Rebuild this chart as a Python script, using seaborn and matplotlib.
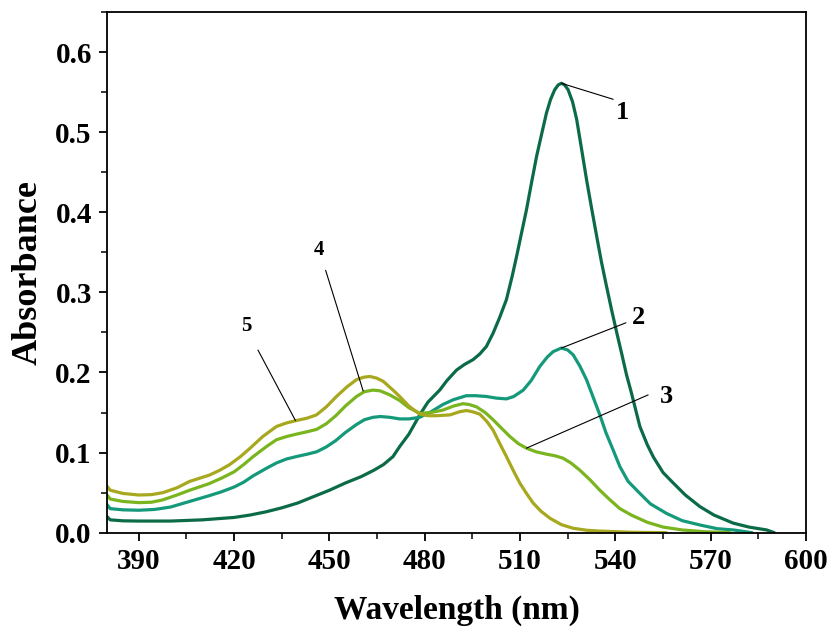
import matplotlib
matplotlib.use("Agg")
import matplotlib.pyplot as plt
import seaborn as sns
import pandas as pd
from matplotlib.ticker import MultipleLocator

# ---- data ----
wl1 = [380, 381, 385, 390, 400, 410, 420, 425, 430, 435, 440, 445, 450, 455, 460, 464, 467, 470, 472.1, 475,
       478.4, 481, 484.7, 487, 490, 492.5, 495.2, 497.3, 499.4, 501.5, 503.5, 505.7, 507.5, 508.9, 510.5, 512,
       513.6, 515.2, 516.8, 518.3, 519.6, 520.9, 522, 523, 524, 525.1, 526.5, 527.8, 529.3, 530.9, 532.5, 534.1,
       535.6, 537.2, 538.8, 540.4, 542, 543.5, 545, 547.7, 550, 552, 555, 558.2, 562, 566.6, 571, 577, 582, 587.6, 590]
ab1 = [0.020, 0.016, 0.0148, 0.0145, 0.0145, 0.016, 0.019, 0.022, 0.026, 0.031, 0.037, 0.045, 0.053, 0.062,
       0.070, 0.078, 0.085, 0.095, 0.1075, 0.123, 0.147, 0.163, 0.178, 0.190, 0.203, 0.210, 0.216, 0.223, 0.2325,
       0.249, 0.268, 0.291, 0.320, 0.345, 0.375, 0.403, 0.437, 0.470, 0.498, 0.524, 0.541, 0.553, 0.559, 0.561,
       0.559, 0.553, 0.538, 0.516, 0.480, 0.441, 0.405, 0.370, 0.338, 0.3075, 0.278, 0.250, 0.223, 0.197, 0.175,
       0.1325, 0.110, 0.094, 0.075, 0.062, 0.047, 0.0325, 0.022, 0.012, 0.007, 0.0034, 0.0]

wl2 = [380, 381, 385, 390, 395, 400, 406, 412, 416, 420, 423, 426, 430, 433.3, 436.5, 439.6, 443, 446, 449, 452,
       455, 458.5, 461, 463.7, 466, 469, 472.1, 475, 478.4, 482, 485.7, 489, 493.1, 496, 499.4, 502.5, 505.7, 508,
       511, 513.5, 516.2, 518.5, 520.4, 523, 525, 526.7, 528.8, 530.9, 533, 535.1, 537, 539.3, 541.4, 544, 547.7,
       551, 556.1, 561, 566.6, 572, 577.1, 583]
ab2 = [0.035, 0.030, 0.0285, 0.028, 0.029, 0.032, 0.039, 0.046, 0.051, 0.057, 0.063, 0.071, 0.080, 0.087, 0.092,
       0.095, 0.098, 0.101, 0.107, 0.115, 0.125, 0.135, 0.141, 0.144, 0.145, 0.144, 0.142, 0.142, 0.144, 0.151,
       0.160, 0.166, 0.171, 0.171, 0.170, 0.168, 0.167, 0.170, 0.178, 0.190, 0.2075, 0.219, 0.226, 0.2305, 0.228,
       0.222, 0.208, 0.191, 0.169, 0.147, 0.125, 0.103, 0.0825, 0.064, 0.049, 0.036, 0.024, 0.015, 0.0096, 0.005,
       0.0034, 0.0]

wl4 = [380, 381, 385, 390, 394, 397.6, 402, 406, 412, 416, 420, 423, 426, 430, 433.3, 436.5, 439.6, 443, 446, 449,
       452, 455, 458.5, 461, 463.7, 466, 469, 472.1, 475, 478.4, 482, 485.7, 489, 492, 494, 496.3, 499, 501.5, 504,
       506.8, 509.5, 512, 515, 518.3, 521, 523.5, 526, 528.8, 532, 535.1, 538, 541.4, 545, 550, 555, 561, 568, 576]
ab4 = [0.047, 0.042, 0.039, 0.0375, 0.038, 0.041, 0.047, 0.053, 0.061, 0.068, 0.076, 0.085, 0.095, 0.107, 0.116,
       0.120, 0.123, 0.126, 0.129, 0.136, 0.146, 0.158, 0.170, 0.176, 0.178, 0.177, 0.172, 0.165, 0.156, 0.149,
       0.150, 0.153, 0.158, 0.161, 0.160, 0.157, 0.150, 0.141, 0.131, 0.120, 0.111, 0.1055, 0.101, 0.098, 0.096,
       0.093, 0.087, 0.078, 0.066, 0.053, 0.042, 0.030, 0.022, 0.013, 0.007, 0.0034, 0.0012, 0.0]

wl5 = [380, 381, 385, 390, 394, 397.6, 402, 406, 412.3, 415.5, 418.6, 422, 424.9, 429, 433.3, 436.5, 439.6, 443,
       445.9, 449, 452.2, 455.5, 458.5, 460.7, 462.7, 464.8, 466.9, 470, 472.1, 475, 478.4, 481, 483.7, 487.9, 491,
       493.1, 495, 497.3, 499.5, 501.5, 503.5, 505.7, 507.8, 509.9, 512, 514.1, 516.5, 519.4, 523, 526.7, 531, 535,
       545, 556]
ab5 = [0.058, 0.053, 0.049, 0.047, 0.0475, 0.050, 0.056, 0.064, 0.072, 0.078, 0.085, 0.095, 0.105, 0.120, 0.1325,
       0.137, 0.140, 0.143, 0.147, 0.157, 0.170, 0.182, 0.191, 0.194, 0.195, 0.193, 0.189, 0.178, 0.170, 0.158,
       0.148, 0.146, 0.146, 0.147, 0.151, 0.1525, 0.151, 0.148, 0.139, 0.128, 0.112, 0.095, 0.078, 0.062, 0.049,
       0.037, 0.027, 0.018, 0.010, 0.0055, 0.003, 0.002, 0.0005, 0.0]

series_names = ["1", "2", "4", "5"]
colors = ["#0b6b47", "#14997a", "#7ab520", "#a8a81e"]

frames = []
for name, w, a in zip(series_names, [wl1, wl2, wl4, wl5], [ab1, ab2, ab4, ab5]):
    frames.append(pd.DataFrame({"wl": w, "abs": a, "curve": name}))
df = pd.concat(frames, ignore_index=True)

# annotations: label, point on curve, end of leader line, text position
ann_labels = ["1", "2", "3", "4", "5"]
ann_points = [(523, 0.561), (523, 0.2305), (512, 0.1055), (460.6, 0.177), (439.3, 0.140)]
ann_line_end = [(539.3, 0.541), (543.3, 0.262), (550.3, 0.172), (448.8, 0.3275), (427.5, 0.228)]
ann_text = [(542.3, 0.5246), (547.2, 0.268), (555.9, 0.170), (446.7, 0.353), (423.9, 0.2575)]
ann_sizes = [19, 19, 19, 15, 15]

sns.set_style("ticks")
plt.rcParams["font.family"] = ["Liberation Serif", "DejaVu Serif"]
plt.rcParams["font.weight"] = "bold"
plt.rcParams["text.color"] = "black"
plt.rcParams["axes.labelcolor"] = "black"
plt.rcParams["xtick.color"] = "black"
plt.rcParams["ytick.color"] = "black"

fig = plt.figure(figsize=(8.31, 6.28), dpi=100)
ax = fig.add_axes([0.1288, 0.1518, 0.8412, 0.8291])

sns.lineplot(data=df, x="wl", y="abs", hue="curve", palette=dict(zip(series_names, colors)),
             linewidth=2.3, ax=ax, legend=False, sort=False)

for lab, p, e, t, s in zip(ann_labels, ann_points, ann_line_end, ann_text, ann_sizes):
    ax.plot([p[0], e[0]], [p[1], e[1]], color="black", linewidth=0.8)
    ax.text(t[0], t[1], lab, fontsize=s, fontweight="bold", ha="center", va="center", color="black")

ax.set_xlim(380, 600)
ax.set_ylim(0, 0.65)
ax.xaxis.set_major_locator(MultipleLocator(30))
ax.xaxis.set_minor_locator(MultipleLocator(15))
ax.yaxis.set_minor_locator(MultipleLocator(0.05))
ax.set_yticks([0, 0.1, 0.2, 0.3, 0.4, 0.5, 0.6])
ax.set_yticklabels(["0.0", "0.1", "0.2", "0.3", "0.4", "0.5", "0.6"])
ax.tick_params(axis="both", which="major", direction="out", length=6, width=1.3, labelsize=21,
               colors="black", pad=5)
ax.tick_params(axis="both", which="minor", direction="out", length=4, width=1.1, colors="black")
ax.tick_params(top=False, right=False, which="both")
for lbl in ax.get_xticklabels() + ax.get_yticklabels():
    lbl.set_fontweight("bold")
for sp in ax.spines.values():
    sp.set_visible(True)
    sp.set_linewidth(1.3)
    sp.set_color("black")

ax.set_xlabel("Wavelength (nm)", fontsize=24, fontweight="bold", labelpad=14, color="black")
ax.set_ylabel("Absorbance", fontsize=26, fontweight="bold", labelpad=8, color="black")

fig.savefig("out.png", dpi=100)
